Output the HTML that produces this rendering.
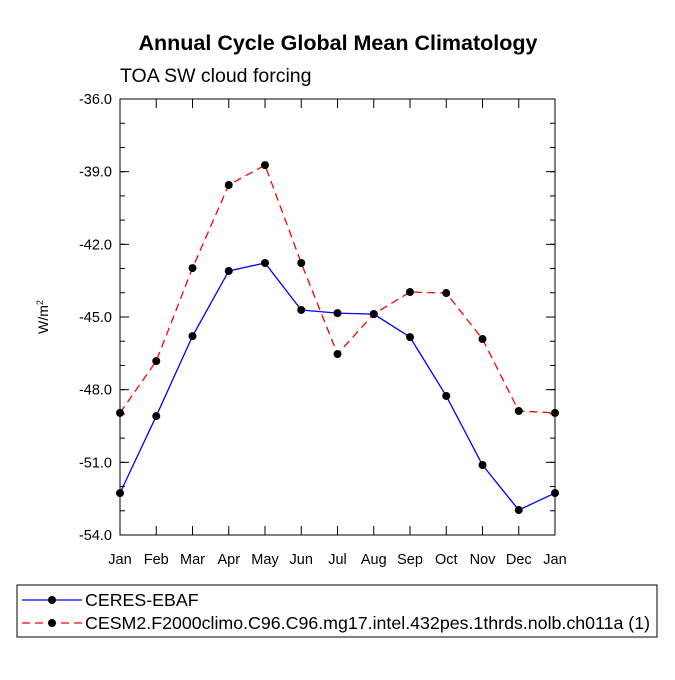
<!DOCTYPE html>
<html><head><meta charset="utf-8"><style>
body{margin:0;background:#fff}
svg text{font-family:"Liberation Sans",Arial,sans-serif}
</style></head><body>
<svg id="c" width="675" height="675" xmlns="http://www.w3.org/2000/svg">
<text x="338" y="50" text-anchor="middle" font-size="21.5" font-weight="bold">Annual Cycle Global Mean Climatology</text>
<text x="120" y="82" font-size="19.5">TOA SW cloud forcing</text>
<g id="ax"></g>
<g id="marks"></g>
<rect x="17" y="585" width="640" height="52" fill="none" stroke="#000" stroke-width="1"/>
<g id="leg"></g>
</svg>
<script>
const months=["Jan","Feb","Mar","Apr","May","Jun","Jul","Aug","Sep","Oct","Nov","Dec","Jan"];
const ceres=[-52.27,-49.09,-45.79,-43.1,-42.77,-44.71,-44.84,-44.88,-45.83,-48.26,-51.11,-52.97,-52.27];
const model=[-48.96,-46.82,-42.98,-39.55,-38.73,-42.77,-46.53,-44.88,-43.97,-44.01,-45.91,-48.88,-48.96];
const yTicks=[-36,-39,-42,-45,-48,-51,-54];
const seriesNames=["CERES-EBAF","CESM2.F2000climo.C96.C96.mg17.intel.432pes.1thrds.nolb.ch011a (1)"];
const NS="http://www.w3.org/2000/svg";
const L=120,R=555,T=99,B=535,ymax=-36,ymin=-54;
const xs=i=>L+(R-L)*i/(months.length-1);
const ys=v=>T+(ymax-v)/(ymax-ymin)*(B-T);
function mk(p,t,a){const e=document.createElementNS(NS,t);for(const k in a)e.setAttribute(k,a[k]);p.appendChild(e);return e;}
const ax=document.getElementById('ax'),mg=document.getElementById('marks'),lg=document.getElementById('leg');
const frame=mk(ax,'rect',{x:L,y:T,width:R-L,height:B-T,fill:'none',stroke:'#000','stroke-width':1});


yTicks.forEach(v=>{const y=ys(v);
mk(ax,'line',{x1:L,x2:L+9,y1:y,y2:y,stroke:'#000'});mk(ax,'line',{x1:R,x2:R-9,y1:y,y2:y,stroke:'#000'});
const t=mk(ax,'text',{x:L-8,y:y+5,'text-anchor':'end','font-size':14.5});t.textContent=v.toFixed(1);

});
for(let v=ymax;v>=ymin;v-=1){const y=ys(v);mk(ax,'line',{x1:L,x2:L+5,y1:y,y2:y,stroke:'#000'});mk(ax,'line',{x1:R,x2:R-5,y1:y,y2:y,stroke:'#000'});}
months.forEach((m,i)=>{const x=xs(i);
mk(ax,'line',{x1:x,x2:x,y1:B,y2:B-9,stroke:'#000'});mk(ax,'line',{x1:x,x2:x,y1:T,y2:T+9,stroke:'#000'});
const t=mk(ax,'text',{x:x,y:B+29,'text-anchor':'middle','font-size':14.5});t.textContent=m;

});
const yl=mk(ax,'text',{transform:'translate(48,317) rotate(-90)','text-anchor':'middle','font-size':14});
yl.innerHTML='W/m<tspan dy="-5" font-size="9">2</tspan>';


function series(vals,color,dash,name){
const pts=vals.map((v,i)=>xs(i)+','+ys(v)).join(' ');
const pl=mk(mg,'polyline',{points:pts,fill:'none',stroke:color,'stroke-width':1.3,'stroke-dasharray':dash});


vals.forEach((v,i)=>{const c=mk(mg,'circle',{cx:xs(i),cy:ys(v),r:4,fill:'#000'});

});}
series(ceres,'#0000ff','none','ceres');
series(model,'#ff0000','8,5','model');
[[600,'#0000ff','none'],[623,'#ff0000','8,5']].forEach((e,i)=>{
mk(lg,'line',{x1:22,x2:82,y1:e[0],y2:e[0],stroke:e[1],'stroke-width':1.3,'stroke-dasharray':e[2]});
mk(lg,'circle',{cx:52,cy:e[0],r:4,fill:'#000'});
const t=mk(lg,'text',{x:85,y:e[0]+6,'font-size':17.8});t.textContent=seriesNames[i];

});
</script>
</body></html>
